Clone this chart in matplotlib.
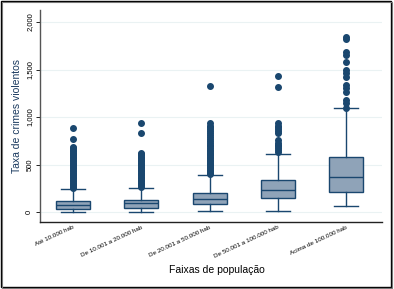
import matplotlib.pyplot as plt
from matplotlib.patches import Rectangle

plt.rcParams["font.family"] = ["Liberation Sans", "DejaVu Sans"]

# faixas de populacao e estatisticas dos boxplots
labels = ["Até 10.000 hab", "De 10.001 a 20.000 hab", "De 20.001 a 50.000 hab",
          "De 50.001 a 100.000 hab", "Acima de 100.000 hab"]
whislo = [0, 0, 10, 13, 63]
q1 = [30, 42, 85, 147, 210]
med = [74, 95, 137, 231, 368]
q3 = [116, 126, 200, 337, 579]
whishi = [240, 253, 390, 610, 1095]

# outliers (valores acima do bigode)
out1 = [250, 265, 280, 295, 310, 325, 340, 355, 370, 385, 400, 415, 430, 445,
        460, 475, 490, 505, 520, 535, 550, 565, 580, 595, 610, 625, 640, 655,
        670, 684, 768, 884]
out2 = [265, 280, 295, 310, 325, 340, 355, 370, 385, 400, 415, 430, 445, 460,
        475, 490, 505, 520, 535, 550, 565, 580, 595, 610, 621, 831, 937]
out3 = [400, 415, 430, 445, 460, 475, 490, 505, 520, 535, 550, 565, 580, 595,
        610, 625, 640, 655, 670, 690, 710, 730, 750, 770, 790, 810, 830, 850,
        870, 890, 910, 937, 1326]
out4 = [632, 650, 670, 690, 710, 730, 758, 831, 850, 870, 890, 910, 937,
        1316, 1432]
out5 = [1095, 1147, 1179, 1263, 1305, 1337, 1421, 1463, 1495, 1579, 1653,
        1684, 1821, 1842]
outliers = [out1, out2, out3, out4, out5]

navy = "#1a476f"
fill = "#8fa3b8"

stats = []
for i in range(len(labels)):
    stats.append({"whislo": whislo[i], "q1": q1[i], "med": med[i], "q3": q3[i],
                  "whishi": whishi[i], "fliers": outliers[i]})

fig = plt.figure(figsize=(3.94, 2.89), dpi=100)
ax = fig.add_axes([0.102, 0.232, 0.868, 0.733])

ax.bxp(stats, positions=[1, 2, 3, 4, 5], widths=0.5, capwidths=0.35,
       patch_artist=True,
       boxprops=dict(facecolor=fill, edgecolor=navy, linewidth=1.0),
       medianprops=dict(color=navy, linewidth=1.0),
       whiskerprops=dict(color=navy, linewidth=1.0),
       capprops=dict(color=navy, linewidth=1.0),
       flierprops=dict(marker="o", markerfacecolor=navy, markeredgecolor=navy,
                       markersize=4, linestyle="none"))

ax.set_xlim(0.516, 5.53)
ax.set_ylim(-105, 2126)
ax.set_yticks([0, 500, 1000, 1500, 2000])
ax.set_yticklabels(["0", "500", "1,000", "1,500", "2,000"], rotation=90,
                   va="center", fontsize=5.5)
ax.yaxis.grid(True, color="#eaf2f3", linewidth=0.8)
ax.set_axisbelow(True)

ax.set_xticks([1, 2, 3, 4, 5])
ax.set_xticklabels(labels, rotation=25, ha="right", rotation_mode="anchor",
                   fontsize=4.5)
ax.tick_params(axis="x", length=0, pad=2)
ax.tick_params(axis="y", length=3, width=0.6, pad=2)

for s in ["top", "right"]:
    ax.spines[s].set_visible(False)
ax.spines["left"].set_color("#555555")
ax.spines["bottom"].set_color("#222222")
ax.spines["left"].set_linewidth(1.0)
ax.spines["bottom"].set_linewidth(1.0)

ax.set_ylabel("Taxa de crimes violentos", fontsize=7.5, color="#1a3a5f", labelpad=3)
fig.text(0.55, 0.066, "Faixas de população", fontsize=7.5, ha="center", va="center")

# moldura da figura
fig.patches.append(Rectangle((0.002, 0.006), 0.99, 0.99, transform=fig.transFigure,
                             fill=False, edgecolor="black", linewidth=1.0))
fig.patches.append(Rectangle((0.004, 0.003), 0.99, 0.99, transform=fig.transFigure,
                             fill=False, edgecolor="#777777", linewidth=0.8))

fig.savefig("out.png", dpi=100)
